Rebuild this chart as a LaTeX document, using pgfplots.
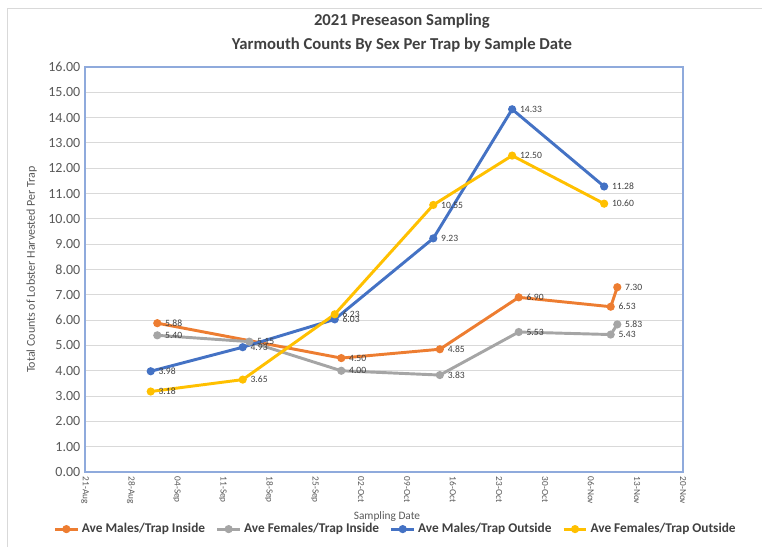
\documentclass[border=0pt]{standalone}
\usepackage{pgfplots}
\pgfplotsset{compat=1.18}
\usepackage{fontspec}
\setmainfont{Carlito}
\definecolor{cOr}{HTML}{ED7D31}
\definecolor{cGr}{HTML}{A5A5A5}
\definecolor{cBl}{HTML}{4472C4}
\definecolor{cYe}{HTML}{FFC000}
\definecolor{txt}{HTML}{595959}
\definecolor{dtxt}{HTML}{404040}
\definecolor{gridc}{HTML}{D9D9D9}
\definecolor{frame}{HTML}{8FAADC}
\begin{document}
\begin{tikzpicture}
\path[use as bounding box] (0,0) rectangle (571.5pt,409.5pt);
\draw[gray!30, line width=0.6pt] (5.25pt,-5pt) -- (5.25pt,403.5pt) -- (600pt,403.5pt);
\begin{axis}[
  at={(63.75pt,55.5pt)}, anchor=south west,
  scale only axis, width=448.5pt, height=303.75pt,
  xmin=0, xmax=91, ymin=0, ymax=16,
  xtick={0,7,...,91},
  xticklabels={21-Aug,28-Aug,04-Sep,11-Sep,18-Sep,25-Sep,02-Oct,09-Oct,16-Oct,23-Oct,30-Oct,06-Nov,13-Nov,20-Nov},
  xticklabel style={rotate=-90, anchor=west, font=\fontsize{7}{8}\selectfont, text=txt},
  ytick={0,1,...,16},
  yticklabel style={font=\fontsize{10.5}{12}\selectfont, text=txt},
  /pgf/number format/assume math mode=true,
  y tick label style={/pgf/number format/.cd, fixed, fixed zerofill, precision=2},
  major tick length=0pt,
  ymajorgrids, grid style={gridc, line width=0.8pt},
  axis line style={frame, line width=0.9pt},
  ylabel={Total Counts of Lobster Harvested Per Trap},
  ylabel style={at={(axis description cs:-0.089,0.5)}, anchor=center, rotate=0, font=\fontsize{9}{10}\selectfont, text=txt},
  xlabel={Sampling Date},
  xlabel style={at={(axis description cs:0.505,-0.111)}, anchor=center, font=\fontsize{8.5}{10}\selectfont, text=txt},
  title={2021 Preseason Sampling\\Yarmouth Counts By Sex Per Trap by Sample Date},
  title style={at={(axis description cs:0.53,1.064)}, anchor=center, align=center, font=\bfseries\fontsize{12.5}{18}\selectfont, text=dtxt},
  legend columns=4,
  legend style={at={(axis description cs:0.52,-0.141)}, anchor=center, draw=none, fill=none,
    font=\bfseries\fontsize{10}{12}\selectfont, text=dtxt,
    /tikz/every even column/.append style={column sep=6pt}, inner sep=0pt},
  nodes near coords={\pgfmathprintnumber[fixed,fixed zerofill,precision=2]{\pgfplotspointmeta}},
  every node near coord/.append style={anchor=west, xshift=1.5pt, font=\fontsize{7.2}{8}\selectfont, text=dtxt},
  every axis plot/.append style={line width=2.2pt, mark=*, mark size=1.9pt},
  clip=false,
]
\addplot[cOr, mark options={fill=cOr, draw=cOr}] coordinates {(11,5.88) (39,4.50) (54,4.85) (66,6.90) (80,6.53) (81,7.30)};
\addlegendentry{Ave Males/Trap Inside}
\addplot[cGr, mark options={fill=cGr, draw=cGr}] coordinates {(11,5.40) (25,5.15) (39,4.00) (54,3.83) (66,5.53) (80,5.43) (81,5.83)};
\addlegendentry{Ave Females/Trap Inside}
\addplot[cBl, mark options={fill=cBl, draw=cBl}] coordinates {(10,3.98) (24,4.93) (38,6.03) (53,9.23) (65,14.33) (79,11.28)};
\addlegendentry{Ave Males/Trap Outside}
\addplot[cYe, mark options={fill=cYe, draw=cYe}] coordinates {(10,3.18) (24,3.65) (38,6.23) (53,10.55) (65,12.50) (79,10.60)};
\addlegendentry{Ave Females/Trap Outside}
\end{axis}
\end{tikzpicture}
\end{document}
